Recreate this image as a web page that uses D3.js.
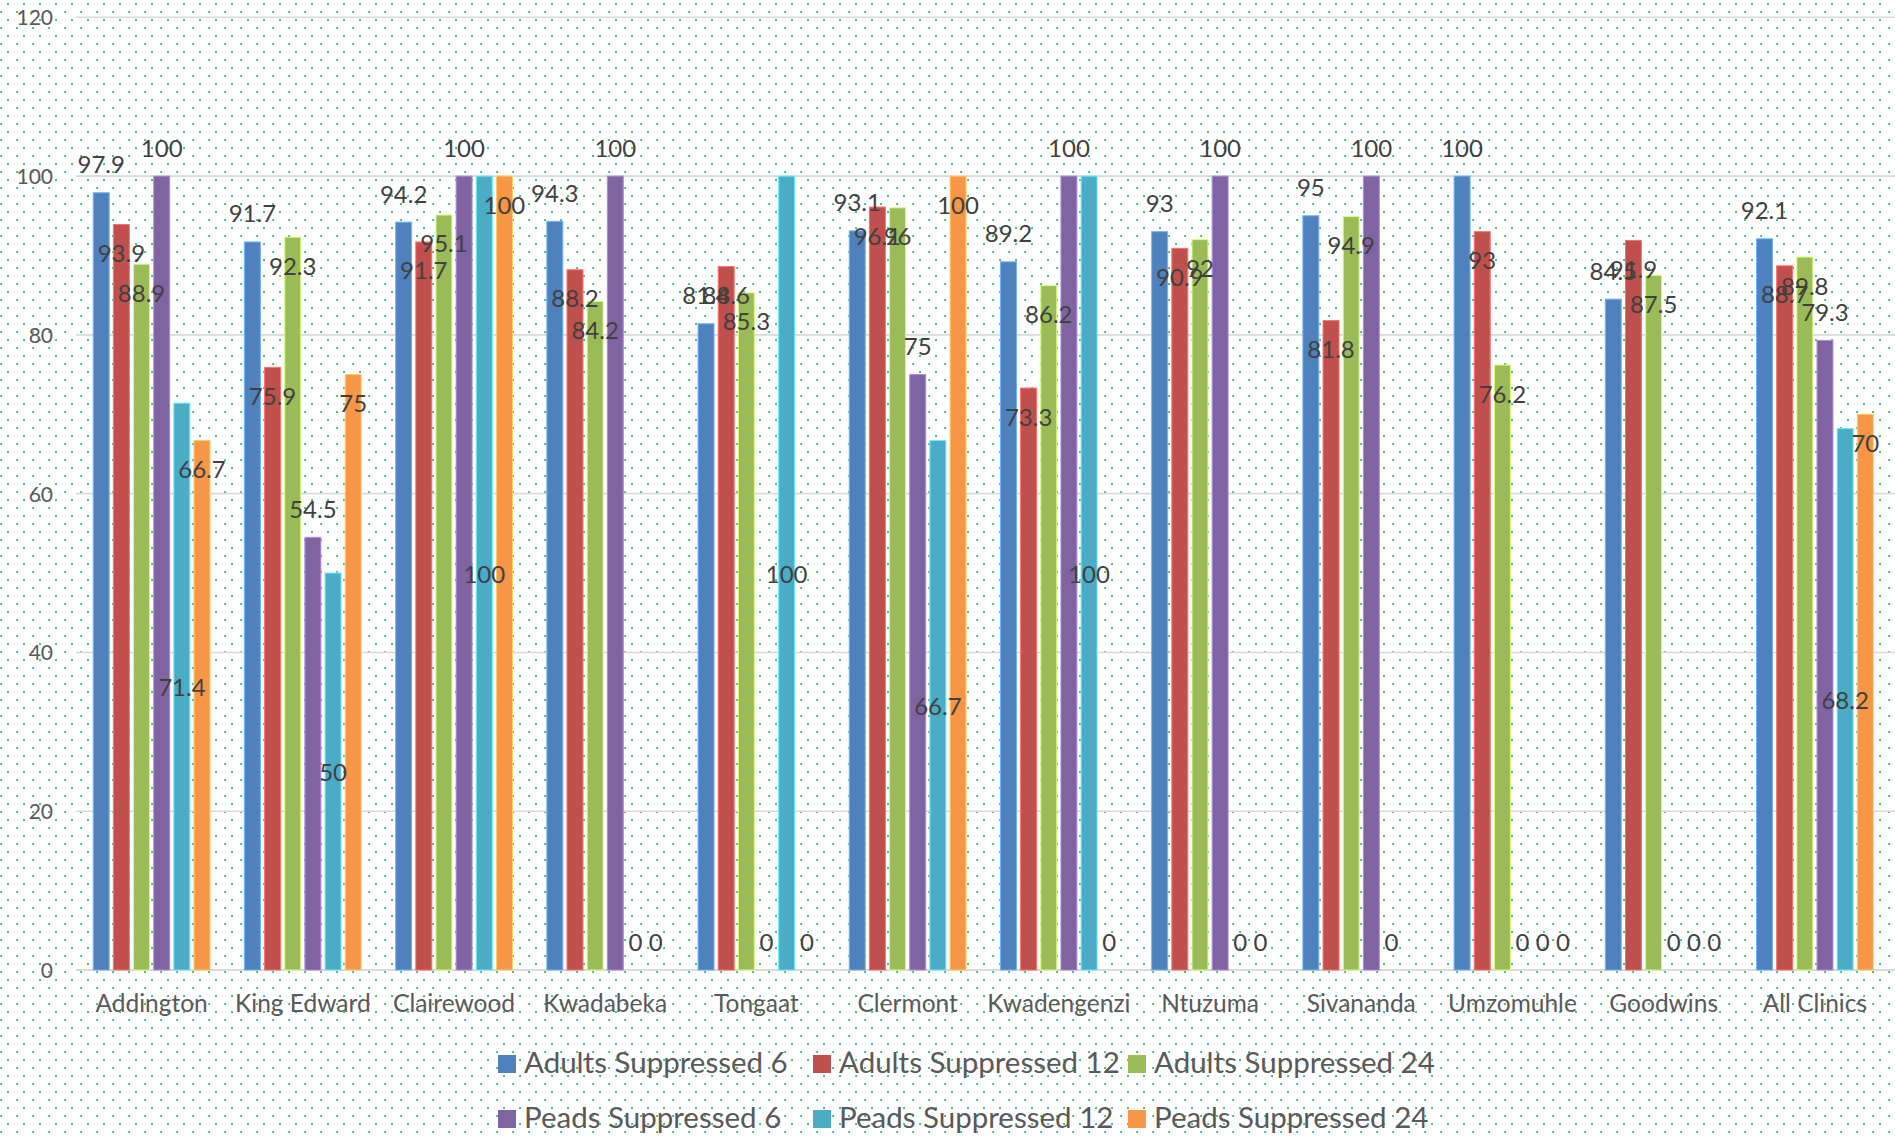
<!DOCTYPE html>
<html>
<head>
<meta charset="utf-8">
<script src="https://cdn.jsdelivr.net/npm/d3@7"></script>
<style>
  html, body { margin: 0; padding: 0; background: #fff; }
  svg { display: block; }
  text { font-family: Lato, "Open Sans", sans-serif; }
</style>
</head>
<body>
<svg id="chart" width="1895" height="1136"></svg>
<script>
// Viral suppression (%) per clinic, adults and paediatric patients at 6, 12 and 24 months
const categories = ["Addington", "King Edward", "Clairewood", "Kwadabeka", "Tongaat", "Clermont",
  "Kwadengenzi", "Ntuzuma", "Sivananda", "Umzomuhle", "Goodwins", "All Clinics"];
const seriesNames = ["Adults Suppressed 6", "Adults Suppressed 12", "Adults Suppressed 24",
  "Peads Suppressed 6", "Peads Suppressed 12", "Peads Suppressed 24"];
const adults6  = [97.9, 91.7, 94.2, 94.3, 81.4, 93.1, 89.2, 93, 95, 100, 84.5, 92.1];
const adults12 = [93.9, 75.9, 91.7, 88.2, 88.6, 96.1, 73.3, 90.9, 81.8, 93, 91.9, 88.7];
const adults24 = [88.9, 92.3, 95.1, 84.2, 85.3, 96, 86.2, 92, 94.9, 76.2, 87.5, 89.8];
const peads6   = [100, 54.5, 100, 100, 0, 75, 100, 100, 100, 0, 0, 79.3];
const peads12  = [71.4, 50, 100, 0, 100, 66.7, 100, 0, 0, 0, 0, 68.2];
const peads24  = [66.7, 75, 100, 0, 0, 100, 0, 0, null, 0, 0, 70];
const yTicks   = [0, 20, 40, 60, 80, 100, 120];

const seriesValues = [adults6, adults12, adults24, peads6, peads12, peads24];
const colors = ["#4F81BD", "#C0504D", "#9BBB59", "#8064A2", "#4BACC6", "#F79646"];
// where each series puts its data label relative to its bar
const labelPlacement = ["outside", "inside", "inside", "outside", "center", "inside"];

const svg = d3.select("#chart");

// dotted background fill
const defs = svg.append("defs");
const pat = defs.append("pattern")
  .attr("id", "dots").attr("patternUnits", "userSpaceOnUse")
  .attr("width", 16).attr("height", 16);
pat.append("rect").attr("width", 16).attr("height", 16).attr("fill", "#ffffff");
pat.append("rect").attr("x", 7.2).attr("y", 3.2).attr("width", 1.7).attr("height", 1.7).attr("fill", "#00B050");
pat.append("rect").attr("x", 0.2).attr("y", 11.2).attr("width", 1.7).attr("height", 1.7).attr("fill", "#00B050");
svg.append("rect").attr("width", 1895).attr("height", 1136).attr("fill", "url(#dots)");

const plotLeft = 76, plotRight = 1890.5, gridRight = 1895;
const y = d3.scaleLinear().domain([0, 120]).range([970, 17.3]);
const x0 = d3.scaleBand().domain(categories).range([plotLeft, plotRight])
  .paddingInner(0.2).paddingOuter(0.1);
const x1 = d3.scaleBand().domain(seriesNames).range([0, x0.bandwidth()]);
const barW = x1.bandwidth() - 4.2;

// gridlines
svg.append("g").selectAll("line").data(yTicks).join("line")
  .attr("x1", plotLeft).attr("x2", gridRight)
  .attr("y1", d => y(d)).attr("y2", d => y(d))
  .attr("stroke", "#D9D9D9").attr("stroke-width", d => d === 0 ? 2 : 1.6);

// value axis labels
const yAxis = d3.axisLeft(y).tickValues(yTicks).tickSize(0).tickPadding(0);
const yg = svg.append("g").attr("transform", "translate(53,0)").call(yAxis);
yg.select(".domain").remove();
yg.selectAll("text").attr("font-size", 21).attr("fill", "#595959")
  .attr("font-family", "Lato, sans-serif").attr("dy", "0.35em");

// bars
const rows = [];
seriesNames.forEach((s, si) => {
  categories.forEach((c, ci) => {
    const v = seriesValues[si][ci];
    if (v !== null) rows.push({ s, si, c, v });
  });
});

const barG = svg.append("g");
barG.selectAll("rect").data(rows.filter(d => d.v > 0)).join("rect")
  .attr("x", d => x0(d.c) + x1(d.s) + (x1.bandwidth() - barW) / 2)
  .attr("y", d => y(d.v))
  .attr("width", barW)
  .attr("height", d => y(0) - y(d.v))
  .attr("fill", d => colors[d.si])
  .attr("stroke", d => d3.color(colors[d.si]).brighter(0.9))
  .attr("stroke-width", 1);

// data labels
function labelY(d) {
  const top = y(d.v), base = y(0);
  if (d.v === 0 || labelPlacement[d.si] === "outside") return top - 19.5;
  if (labelPlacement[d.si] === "inside") return top + 37.5;
  return (top + base) / 2 + 9.5;
}
svg.append("g").selectAll("text").data(rows).join("text")
  .attr("x", d => x0(d.c) + x1(d.s) + x1.bandwidth() / 2)
  .attr("y", labelY)
  .attr("text-anchor", "middle")
  .attr("font-size", 24)
  .attr("fill", "#404040")
  .text(d => d.v);

// category axis
const xAxis = d3.axisBottom(x0).tickSize(0).tickPadding(0);
const xg = svg.append("g").attr("transform", "translate(0,1012)").call(xAxis);
xg.select(".domain").remove();
xg.selectAll("text").attr("font-size", 24.5).attr("fill", "#595959")
  .attr("font-family", "Lato, sans-serif").attr("dy", 0);

// legend
const legendX = [498, 813, 1128];
const legendY = [1073, 1128];
const lg = svg.append("g").selectAll("g").data(seriesNames).join("g")
  .attr("transform", (d, i) => `translate(${legendX[i % 3]},${legendY[Math.floor(i / 3)]})`);
lg.append("rect").attr("x", 0).attr("y", -18).attr("width", 18).attr("height", 18)
  .attr("fill", (d, i) => colors[i]);
lg.append("text").attr("x", 26).attr("y", 0)
  .attr("font-size", 29.5).attr("fill", "#595959").text(d => d);
</script>
</body>
</html>
